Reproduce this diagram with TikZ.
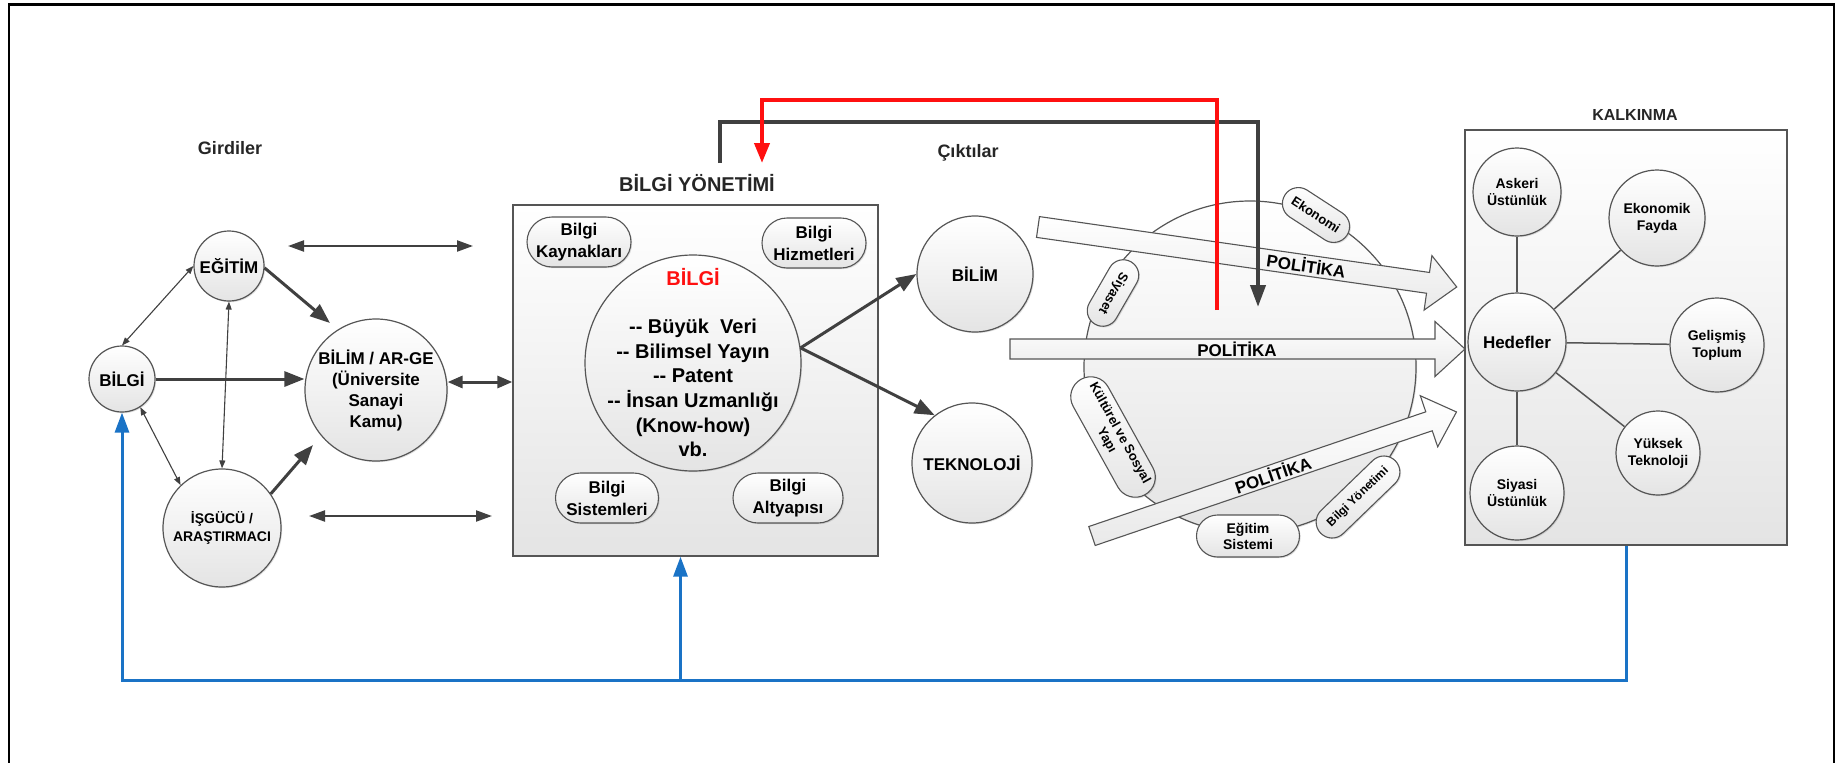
\documentclass[tikz,border=0pt]{standalone}
\usepackage{fontspec}
\setmainfont{Liberation Sans}
\usetikzlibrary{arrows.meta,shadows,shapes.misc,calc}
\definecolor{lg}{HTML}{555555}
\definecolor{ag}{HTML}{404040}
\definecolor{fg}{HTML}{E4E4E4}
\definecolor{bl}{HTML}{1A73C6}
\definecolor{rd}{HTML}{FF1010}
\newcommand{\fsz}[2]{\fontsize{#1}{#2}\selectfont\bfseries}
\begin{document}
\begin{tikzpicture}[x=1pt,y=-1pt,
  shd/.style={drop shadow={shadow xshift=1.2pt,shadow yshift=-1.2pt,opacity=.25}},
  circ/.style={circle,draw=lg,line width=1.2pt,top color=white,bottom color=fg,inner sep=0pt,align=center,text=black,shd},
  pill/.style={rounded rectangle,draw=lg,line width=1.1pt,top color=white,bottom color=fg,inner sep=0pt,align=center,text=black,shd},
  bigbox/.style={rectangle,draw=lg,line width=1.3pt,top color=white,bottom color=fg,inner sep=0pt,shd},
  polyarr/.style={draw=lg,line width=1.1pt,top color=white,bottom color=fg!80},
  ttl/.style={text=black!85,inner sep=0pt},
  thin/.style={draw=ag,line width=1.1pt,{Triangle[length=8pt,width=6pt]}-{Triangle[length=8pt,width=6pt]}},
  hdbl/.style={draw=ag,line width=2.2pt,{Triangle[length=16pt,width=11pt]}-{Triangle[length=16pt,width=11pt]}},
  thk/.style={draw=ag,line width=3pt,-{Triangle[length=20pt,width=15pt]}},
  thkd/.style={draw=ag,line width=3pt,{Triangle[length=15pt,width=12pt]}-{Triangle[length=15pt,width=12pt]}},
  kline/.style={draw=lg,line width=1.5pt},
  blk/.style={draw=ag,line width=4pt,-{Triangle[length=22pt,width=15pt]}},
  redl/.style={draw=rd,line width=4pt,-{Triangle[length=20pt,width=15pt]}},
  blu/.style={draw=bl,line width=3pt},
  bluarr/.style={draw=bl,line width=3pt,-{Triangle[length=20pt,width=14pt]}}
]
\useasboundingbox (0,0) rectangle (1838,763);
% frame
\draw[line width=3pt] (8,4) -- (1835,4);
\draw[line width=1.5pt] (9,3) -- (9,763);
\draw[line width=1.5pt] (1834,3) -- (1834,763);

% ---------- Girdiler ----------
\node[ttl,font=\fsz{18}{22}] (girdiler) at (230,148) {Girdiler};
\node[circ,minimum size=66pt,font=\fsz{17}{20}] (bilgi) at (122,379) {BİLGİ};
\node[circ,minimum size=70pt,font=\fsz{17}{20}] (egitim) at (229,266) {EĞİTİM};
\node[circ,minimum size=142pt,font=\fsz{17}{21}] (arge) at (376,390) {BİLİM / AR-GE\\(Üniversite\\Sanayi\\Kamu)};
\node[circ,minimum size=118pt,font=\fsz{14}{18}] (isgucu) at (222,528) {İŞGÜCÜ /\\ARAŞTIRMACI};

\draw[thin] (bilgi.north) -- (egitim.west);
\draw[thin] (bilgi.-57) -- (isgucu.134);
\draw[thin] (egitim.south) -- (isgucu.north);
\draw[thk] (bilgi.east) -- (bilgi.east -| arge.west);
\coordinate (t1) at (330,323);
\coordinate (t2) at (313,445);
\draw[thk] (egitim.-3) -- (t1);
\draw[thk] (isgucu.35) -- (t2);
\coordinate (h1a) at (288,246);
\coordinate (h1b) at (473,246);
\coordinate (h2a) at (309,516);
\coordinate (h2b) at (492,516);
\draw[hdbl] (h1a) -- (h1b);
\draw[hdbl] (h2a) -- (h2b);

% ---------- Bilgi Yonetimi ----------
\node[ttl,font=\fsz{20}{24}] (bytitle) at (697,183) {BİLGİ YÖNETİMİ};
\node[bigbox,minimum width=365pt,minimum height=351pt] (bybox) at (695.5,380.5) {};
\coordinate (ab) at ([yshift=8pt]arge.east);
\draw[thkd] (ab) -- (ab -| bybox.west);
\node[circ,minimum size=216pt] (bilgic) at (693,363) {};
\node[inner sep=0pt,font=\fsz{20}{24},text=rd] (bilgired) at (693,277) {BİLGİ};
\node[inner sep=0pt,font=\fsz{20}{24.6},align=center] (bilgilist) at (693,388)
  {-{}- Büyük\ \ Veri\\-{}- Bilimsel Yayın\\-{}- Patent\\-{}- İnsan Uzmanlığı\\(Know-how)\\vb.};
\node[pill,minimum width=104pt,minimum height=50pt,font=\fsz{17}{22}] (kaynak) at (579,242) {Bilgi\\Kaynakları};
\node[pill,minimum width=104pt,minimum height=50pt,font=\fsz{17}{22}] (hizmet) at (814,243) {Bilgi\\Hizmetleri};
\node[pill,minimum width=103pt,minimum height=50pt,font=\fsz{17}{22}] (sistem) at (607,498) {Bilgi\\Sistemleri};
\node[pill,minimum width=110pt,minimum height=50pt,font=\fsz{17}{22}] (altyapi) at (788,498) {Bilgi\\Altyapısı};

% ---------- Ciktilar ----------
\node[ttl,font=\fsz{18}{22}] (cikti) at (968,153) {Çıktılar};
\node[circ,minimum size=116pt,font=\fsz{17}{20}] (bilim) at (975,274) {BİLİM};
\node[circ,minimum size=120pt,font=\fsz{17}{20}] (tekno) at (972,463) {TEKNOLOJİ};
\draw[thk] (bilgic.8.5) -- (bilim.west);
\draw[thk] (bilgic.8.5) -- (tekno.128);

% ---------- Politika ----------
\node[circ,minimum size=332pt] (polc) at (1250,367) {};
\node[pill,minimum width=74pt,minimum height=32pt,rotate=-33,font=\fsz{13}{15}] (ekonomi) at (1316,215) {Ekonomi};
\node[pill,minimum width=72pt,minimum height=31pt,rotate=240,font=\fsz{13}{15}] (siyaset) at (1113,293) {Siyaset};
\node[pill,minimum width=132pt,minimum height=40pt,rotate=-61,font=\fsz{13}{15}] (kultur) at (1113,437) {Kültürel ve Sosyal\\Yapı};
\node[pill,minimum width=103pt,minimum height=42pt,font=\fsz{14}{16}] (egsis) at (1248,536) {Eğitim\\Sistemi};
\node[pill,minimum width=104pt,minimum height=32pt,rotate=44,font=\fsz{12}{14}] (bilyon) at (1358,497) {Bilgi Yönetimi};

\begin{scope}[shift={(1038,227)},rotate=-8.15]
  \draw[polyarr] (0,-10.5) -- (394,-10.5) -- (394,-27.5) -- (423,0) -- (394,27.5) -- (394,10.5) -- (0,10.5) -- cycle;
  \node[rotate=-8.15,inner sep=0pt,font=\fsz{17}{20}] (pol1) at (271,0) {POLİTİKA};
\end{scope}
\begin{scope}[shift={(1010,349)}]
  \draw[polyarr] (0,-10) -- (425,-10) -- (425,-27.5) -- (455,0) -- (425,27.5) -- (425,10) -- (0,10) -- cycle;
  \node[inner sep=0pt,font=\fsz{17}{20}] (pol2) at (227,0) {POLİTİKA};
\end{scope}
\begin{scope}[shift={(1092,536)},rotate=18.8]
  \draw[polyarr] (0,-10) -- (356,-10) -- (356,-27) -- (385,0) -- (356,27) -- (356,10) -- (0,10) -- cycle;
  \node[rotate=18.8,inner sep=0pt,font=\fsz{17}{20}] (pol3) at (191,0) {POLİTİKA};
\end{scope}

% ---------- Kalkinma ----------
\node[ttl,font=\fsz{16}{20}] (kalktitle) at (1635,115) {KALKINMA};
\node[bigbox,minimum width=322pt,minimum height=415pt] (kbox) at (1626,337.5) {};
\node[circ,minimum size=98pt,font=\fsz{17}{20}] (hedef) at (1517,342) {Hedefler};
\node[circ,minimum size=88pt,font=\fsz{14}{17}] (askeri) at (1517,192) {Askeri\\Üstünlük};
\node[circ,minimum size=96pt,font=\fsz{14}{17}] (ekfayda) at (1657,218) {Ekonomik\\Fayda};
\node[circ,minimum size=94pt,font=\fsz{14}{17}] (gelis) at (1717,345) {Gelişmiş\\Toplum};
\node[circ,minimum size=84pt,font=\fsz{14}{17}] (yuksek) at (1658,453) {Yüksek\\Teknoloji};
\node[circ,minimum size=94pt,font=\fsz{14}{17}] (siyasi) at (1517,493) {Siyasi\\Üstünlük};
\draw[kline] (hedef) -- (askeri);
\draw[kline] (hedef) -- (ekfayda);
\draw[kline] (hedef) -- (gelis);
\draw[kline] (hedef) -- (yuksek);
\draw[kline] (hedef) -- (siyasi);

% ---------- feedback connectors ----------
\coordinate (bstart) at (720,163);
\coordinate (bc1) at (720,122);
\coordinate (bc2) at (1258,122);
\coordinate (bend) at (1258,307);
\draw[blk] (bstart) -- (bc1) -- (bc2) -- (bend);
\coordinate (rstart) at (1217,310);
\coordinate (rc1) at (1217,100);
\coordinate (rc2) at (762,100);
\coordinate (rend) at (762,163);
\draw[redl] (rstart) -- (rc1) -- (rc2) -- (rend);

\coordinate (bluey) at (0,680);
\coordinate (bybot) at ([xshift=-15pt]bybox.south);
\draw[bluarr] (kbox.south) -- (kbox.south |- bluey) -- (bilgi.south |- bluey) -- (bilgi.south);
\draw[bluarr] (bybot |- bluey) -- (bybot);
\end{tikzpicture}
\end{document}
